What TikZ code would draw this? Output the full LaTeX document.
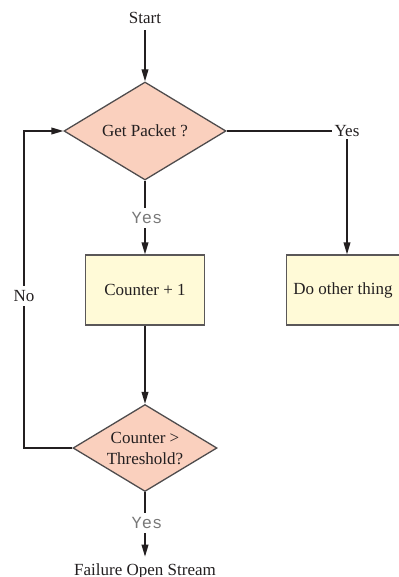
\documentclass[tikz,border=0pt]{standalone}
\usepackage{fontspec}
\setmainfont{Liberation Serif}
\setmonofont{Liberation Mono}
\usetikzlibrary{shapes.geometric,arrows.meta}
\definecolor{askfill}{RGB}{250,208,190}
\definecolor{dofill}{RGB}{255,250,215}
\definecolor{ink}{RGB}{35,31,32}
\definecolor{yesgray}{RGB}{120,120,120}
\begin{document}
\begin{tikzpicture}[>={Triangle[length=6pt,width=3.4pt]},x=0.5pt,y=-0.5pt,
	line width=0.65pt,draw=ink,font=\rmfamily\fontsize{8.5}{10.5}\selectfont,
	txt/.style={inner sep=3pt,text=ink},
	ask/.style={diamond,draw=ink!80,fill=askfill,inner sep=-2pt,aspect=1.65,align=center,text=ink},
	dobox/.style={rectangle,draw=ink!75,fill=dofill,minimum height=35pt,text=ink},
	yeslbl/.style={inner sep=2pt,text=yesgray,font=\ttfamily\fontsize{8.5}{10.5}\selectfont}]
		\useasboundingbox (0,0) rectangle (399,577);
		\node[txt] (start) at (145,18) {Start};
		\node[ask,minimum width=81pt,minimum height=49pt] (getpkt) at (145,131) {Get Packet ?};
		\node[yeslbl] (yesmid) at (147,218) {Yes};
		\node[dobox,minimum width=59.5pt] (count) at (145,290) {Counter + 1};
		\node[ask,minimum width=72pt,minimum height=43.5pt] (thresh) at (145,448) {Counter >\\Threshold?};
		\node[yeslbl] (yeslow) at (147,523) {Yes};
		\node[txt] (fail) at (145,571) {Failure Open Stream};
		\node[txt,inner sep=1pt] (yesright) at (347,131) {Yes};
		\node[dobox,minimum width=56pt] (other) at (343,290) {Do other thing};
		\node[txt,inner sep=2pt] (no) at (24,296) {No};
		\coordinate (loopbot) at (24,448);
		\coordinate (looptop) at (24,131);
		\draw[->] (start) -- (getpkt.north);
		\draw (getpkt.south) -- (getpkt.south |- yesmid.north);
		\draw[->] (getpkt.south |- yesmid.south) -- (count.north);
		\draw[->] (count.south) -- (thresh.north);
		\draw (thresh.south) -- (thresh.south |- yeslow.north);
		\draw[->] (thresh.south |- yeslow.south) -- (fail);
		\draw (thresh.west) -- (loopbot) -- (no.south);
		\draw[->] (no.north) -- (looptop) -- (getpkt.west);
		\draw (getpkt.east) -- (getpkt.east -| yesright.west);
		\draw[->] (yesright.south) -- (yesright.south |- other.north);
		\end{tikzpicture}
\end{document}
